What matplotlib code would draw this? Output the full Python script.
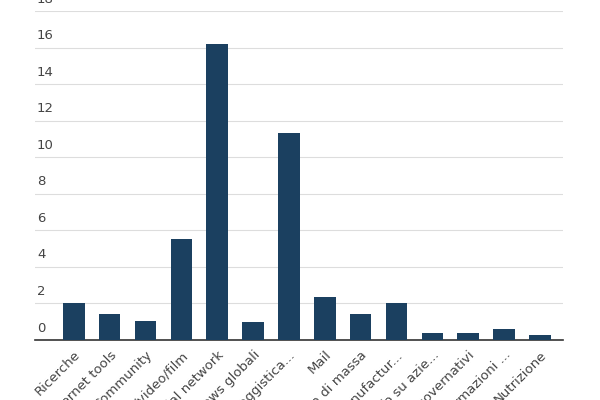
import matplotlib.pyplot as plt
import numpy as np

categorie = ["Ricerche", "Internet tools", "Community", "Foto/video/film", "Social network",
             "News globali", "Messaggistica...", "Mail", "Media di massa", "Manufactur...",
             "Info su azie...", "Siti governativi", "Informazioni ...", "Nutrizione"]
valori = [2.0, 1.4, 1.05, 5.5, 16.2, 1.0, 11.35, 2.35, 1.4, 2.0, 0.4, 0.4, 0.6, 0.3]
ticks = [0, 2, 4, 6, 8, 10, 12, 14, 16, 18]

fig = plt.figure(figsize=(6, 4), dpi=100)
ax = fig.add_axes([0.058, 0.15, 0.88, 0.8225])
x = np.arange(len(categorie))
ax.bar(x, valori, width=0.6, color="#1b4060", zorder=3)
ax.set_ylim(0, 18)
ax.set_xlim(-1.09, 13.64)
ax.set_yticks(ticks)
ax.yaxis.grid(True, color="#dddddd", lw=0.8, zorder=0)
ax.tick_params(axis="y", length=0, labelleft=False)
for t in ticks:
    ax.text(-1.03, t + 0.3, str(t), ha="left", va="bottom", fontsize=9.5, color="#444444")
ax.set_xticks(x)
ax.set_xticklabels(categorie, rotation=45, ha="right", rotation_mode="anchor",
                   fontsize=9.5, color="#444444")
ax.tick_params(axis="x", length=0, pad=6)
for s in ["top", "right", "left"]:
    ax.spines[s].set_visible(False)
ax.spines["bottom"].set_color("#333333")
ax.spines["bottom"].set_linewidth(1.2)
fig.savefig("out.png")
